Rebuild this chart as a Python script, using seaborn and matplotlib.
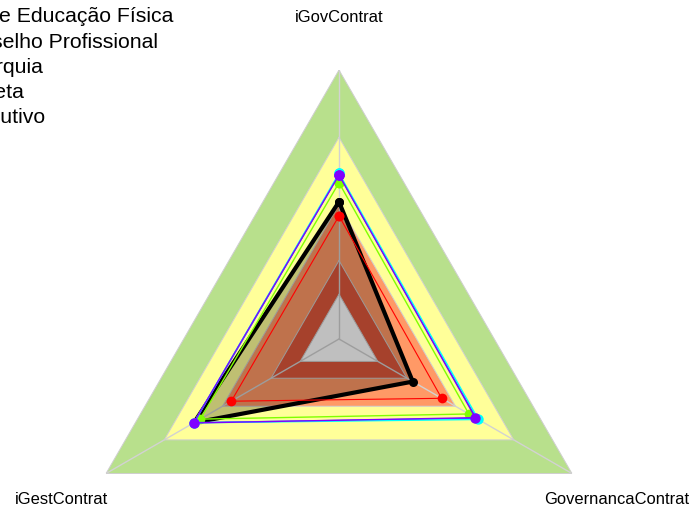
import numpy as np
import pandas as pd
import matplotlib
matplotlib.use("Agg")
import matplotlib.pyplot as plt
import seaborn as sns

# Radar axes (clockwise from the top)
axis_labels = ["iGovContrat", "GovernancaContrat", "iGestContrat"]

# Series names shown in the legend
series_names = ["CF de Educação Física", "Conselho Profissional", "Autarquia",
                "Indireta", "Executivo", "Geral"]

# Index values per axis: [iGovContrat, GovernancaContrat, iGestContrat]
org_vals = [0.412, 0.180, 0.547]
conselho_vals = [0.349, 0.329, 0.355]
autarquia_vals = [0.497, 0.469, 0.515]
indireta_vals = [0.532, 0.502, 0.549]
executivo_vals = [0.539, 0.518, 0.548]
geral_vals = [0.533, 0.508, 0.546]

# Capability bands (outer limit of each band) and their colours
band_limits = [1.0, 0.7, 0.4, 0.15, 0.0]
band_colors = ["#B8E08C", "#FFFF99", "#FF9966", "#DE583C", "#FFFFFF"]

sns.set_style("white")
plt.rcParams["font.family"] = ["Liberation Sans", "DejaVu Sans"]
plt.rcParams["text.color"] = "black"

fig = plt.figure(figsize=(6.91, 5.11), dpi=100)
ax = fig.add_axes([70 / 691, -97 / 511, 538 / 691, 538 / 511], projection="polar")
ax.set_theta_offset(np.pi / 2)
ax.set_theta_direction(-1)
ax.set_ylim(-0.2, 1.0)
ax.set_facecolor("none")
ax.grid(False)
ax.spines["polar"].set_visible(False)

n = len(axis_labels)
angles = [2 * np.pi * i / n for i in range(n)]
closed = angles + [2 * np.pi]

# Bands, outermost first
for lim, col in zip(band_limits, band_colors):
    ax.fill(closed, [lim] * (n + 1), color=col, lw=0, zorder=1)

# Spokes and band outlines
for a in angles:
    ax.plot([a, a], [-0.2, 1.0], color="#D2D2D2", lw=1, zorder=2)
for lim in band_limits:
    ax.plot(closed, [lim] * (n + 1), color="#CFCFCF", lw=0.7, zorder=2)

series = [
    (series_names[0], org_vals, "black", 3.0, 6.5),
    (series_names[1], conselho_vals, "#FF0000", 0.8, 7.0),
    (series_names[2], autarquia_vals, "#80FF00", 1.0, 7.0),
    (series_names[5], geral_vals, "#2E6BFF", 1.0, 7.0),
    (series_names[4], executivo_vals, "#00FFFF", 1.0, 7.5),
    (series_names[3], indireta_vals, "#8000FF", 1.0, 7.5),
]

# Shaded area of the organisation
ax.fill(closed, org_vals + org_vals[:1], color="black", alpha=0.25, lw=0, zorder=3)

handles = {}
for i, (name, vals, col, lw, ms) in enumerate(series):
    df = pd.DataFrame({"theta": closed, "valor": vals + vals[:1]})
    sns.lineplot(data=df, x="theta", y="valor", sort=False, estimator=None,
                 color=col, lw=lw, marker="o", markersize=ms,
                 markeredgewidth=0, ax=ax, zorder=4 + i, label=name)
    handles[name] = ax.get_lines()[-1]

if ax.get_legend() is not None:
    ax.get_legend().remove()
ax.set_xlabel("")
ax.set_ylabel("")
ax.set_xticks([])
ax.set_yticks([])

for a, lab in zip(angles, axis_labels):
    ax.text(a, 1.232, lab, ha="center", va="center", fontsize=11.9,
            color="black", clip_on=False)

leg_names = series_names[:5]
leg = fig.legend([handles[nm] for nm in leg_names], leg_names,
                 loc="upper left", bbox_to_anchor=(0, 1), frameon=False,
                 fontsize=15.3, labelspacing=0.29, borderaxespad=0,
                 borderpad=0, handlelength=2.0)
for t in leg.get_texts():
    t.set_color("black")

# Shift the legend so its text column starts left of the canvas edge
fig.canvas.draw()
r = fig.canvas.get_renderer()
bb = leg.get_texts()[0].get_window_extent(r)
W, H = fig.bbox.width, fig.bbox.height
dx = (-47 - bb.x0) / W
dy = ((H - 17) - (bb.y0 + bb.y1) / 2) / H
leg.set_bbox_to_anchor((dx, 1 + dy), transform=fig.transFigure)

fig.savefig("out.png", dpi=100)
